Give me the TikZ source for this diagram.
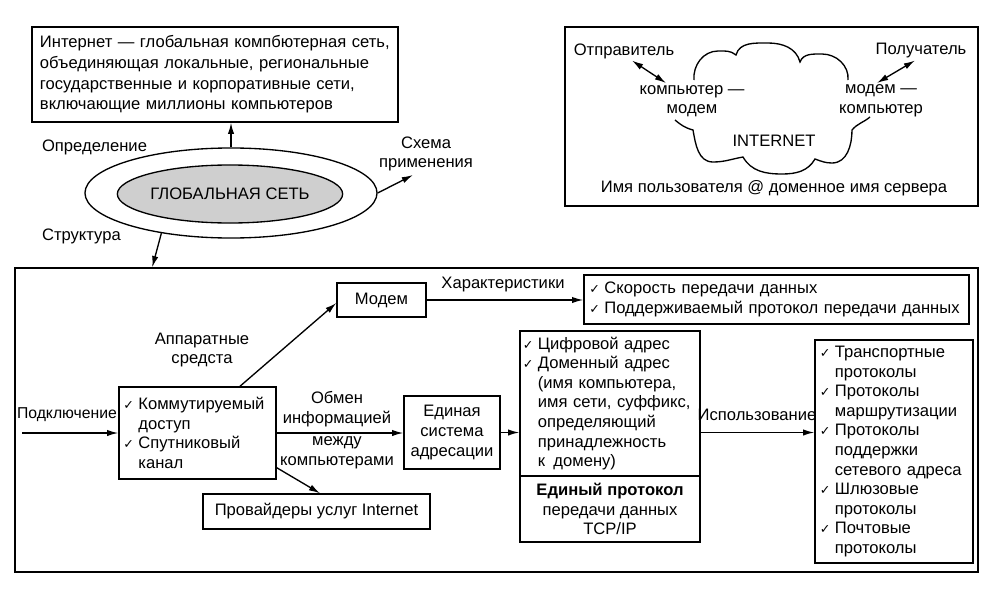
\documentclass[tikz,border=0pt]{standalone}
\usepackage{fontspec}
\setmainfont{Liberation Sans}
\newfontfamily\chkfont{DejaVu Sans}
\usetikzlibrary{shapes.geometric,arrows.meta}
\newcommand{\chk}{\makebox[0.9em][l]{\chkfont\fontsize{9}{9}\selectfont ✓}}
\newcommand{\ind}{\hspace*{0.9em}}

\begin{document}
\begin{tikzpicture}[x=0.025cm,y=0.025cm,
  font=\fontsize{11.8}{13.9}\selectfont, line width=0.95pt,
  >={Latex[length=8pt,width=4.5pt]},
  box/.style={draw,rectangle,inner sep=0pt},
  lbl/.style={align=center,inner sep=1pt}]
\useasboundingbox (0,0) rectangle (1000,595);

\node (def) at (215,520.5) [box,minimum width=9.15cm,minimum height=2.375cm,text width=8.75cm,align=left,font=\fontsize{11.8}{14.7}\selectfont] {Интернет — глобальная компбютерная сеть,\\объединяющая локальные, региональные\\государственные и корпоративные сети,\\включающие миллионы компьютеров};
\node (glob) at (231,402) [ellipse,draw,minimum width=7.3cm,minimum height=2.25cm,inner sep=0pt] {};
\node (core) at (230,401) [ellipse,draw,fill=gray!38,minimum width=4.6cm,minimum height=1.45cm,inner sep=0pt] {ГЛОБАЛЬНАЯ СЕТЬ};
\node (defl) at (40,448) [anchor=west,lbl] {Определение};
\node (schema) at (426,441) [lbl] {Схема\\применения};
\node (structl) at (40,359) [anchor=west,lbl] {Структура};
\coordinate (schemaend) at (413,420);

\node (mail) at (771.5,478.5) [box,minimum width=10.325cm,minimum height=4.475cm] {};
\node (sender) at (624,544) [lbl] {Отправитель};
\node (recv) at (921,544) [lbl] {Получатель};
\node (cm) at (692,494) [lbl] {компьютер —\\модем};
\node (mc) at (881,494) [lbl] {модем —\\компьютер};
\node (inet) at (774,454) [lbl] {INTERNET};
\node (addrname) at (774,407) [lbl] {Имя пользователя @ доменное имя сервера};
\draw (694,515) to[out=95,in=180] (718,544) to[out=0,in=140] (736,540) to[out=75,in=180] (768,552) to[out=0,in=105] (800,533) to[out=70,in=180] (822,541) to[out=0,in=85] (848,515);
\draw (870,478) to[out=-140,in=50] (852,465) to[out=-90,in=0] (832,432) to[out=180,in=-20] (815,436) to[out=-120,in=0] (782,421) to[out=180,in=-60] (743,438) to[out=-170,in=0] (713,433) to[out=180,in=-80] (693,465) to[out=165,in=-40] (675,475);
\draw[<->] ([xshift=0.2cm]sender.south) -- ([xshift=-0.65cm]cm.north);
\draw[<->] ([xshift=-0.15cm]recv.south) -- ([xshift=-0.1cm]mc.north);

\node (net) at (496.5,175) [box,minimum width=24.075cm,minimum height=7.6cm] {};
\coordinate (inp) at (22,162);
\node (conn) at (67,180) [lbl,font=\fontsize{11.2}{13.9}\selectfont] {Подключение};
\node (commut) at (197.5,162) [box,minimum width=3.925cm,minimum height=2.3cm,text width=3.7cm,align=left] {\chk Коммутируемый\\\ind доступ\\\chk Спутниковый\\\ind канал};
\node (modem) at (381.5,295) [box,minimum width=2.225cm,minimum height=0.85cm] {Модем};
\node (hw) at (202,245) [lbl] {Аппаратные\\средста};
\node (charl) at (503,310) [lbl] {Характеристики};
\node (char) at (776.5,295.5) [box,minimum width=9.625cm,minimum height=1.225cm,text width=9.35cm,align=left] {\chk Скорость передачи данных\\\chk Поддерживаемый протокол передачи данных};
\node (xch) at (337,186) [lbl] {Обмен\\информацией};
\node (betw) at (337,142) [lbl] {между\\компьютерами};
\node (addrsys) at (452,162.5) [box,minimum width=2.4cm,minimum height=1.825cm,align=center] {Единая\\система\\адресации};
\node (addr) at (610,191.5) [box,minimum width=4.5cm,minimum height=3.625cm,text width=4.35cm,align=left] {\chk Цифровой адрес\\\chk Доменный адрес\\\ind(имя компьютера,\\\ind имя сети, суффикс,\\\ind определяющий\\\ind принадлежность\\\ind к\enspace домену)};
\node (tcp) at (610,86) [box,minimum width=4.5cm,minimum height=1.65cm,align=center] {\textbf{Единый протокол}\\передачи данных\\TCP/IP};
\node (use) at (757,180) [lbl] {Использование};
\node (proto) at (894,143.5) [box,minimum width=3.95cm,minimum height=5.575cm,text width=3.7cm,align=left] {\chk Транспортные\\\ind протоколы\\\chk Протоколы\\\ind маршрутизации\\\chk Протоколы\\\ind поддержки\\\ind сетевого адреса\\\chk Шлюзовые\\\ind протоколы\\\chk Почтовые\\\ind протоколы};
\node (prov) at (316.5,83.5) [box,minimum width=5.675cm,minimum height=0.875cm] {Провайдеры услуг Internet};

\draw[->] (glob.north) -- (glob.north |- def.south);
\draw[->] (glob.east) -- (schemaend);
\draw[->] (glob.210) -- ([xshift=3.45cm]net.north west);
\draw[->] (inp) -- (commut.west);
\draw[->] ([xshift=1.06cm]commut.north) -- ([yshift=-0.075cm]modem.west);
\draw[->] (modem.east) -- (modem.east -| char.west);
\draw[->] (commut.east) -- (commut.east -| addrsys.west);
\draw[->] (addrsys.east) -- (addrsys.east -| addr.west);
\draw[->] (addrsys.east -| addr.east) -- (addrsys.east -| proto.west);
\draw[->] ([yshift=0.3cm]commut.south east) -- ([xshift=0.09cm]prov.north);
\end{tikzpicture}
\end{document}
